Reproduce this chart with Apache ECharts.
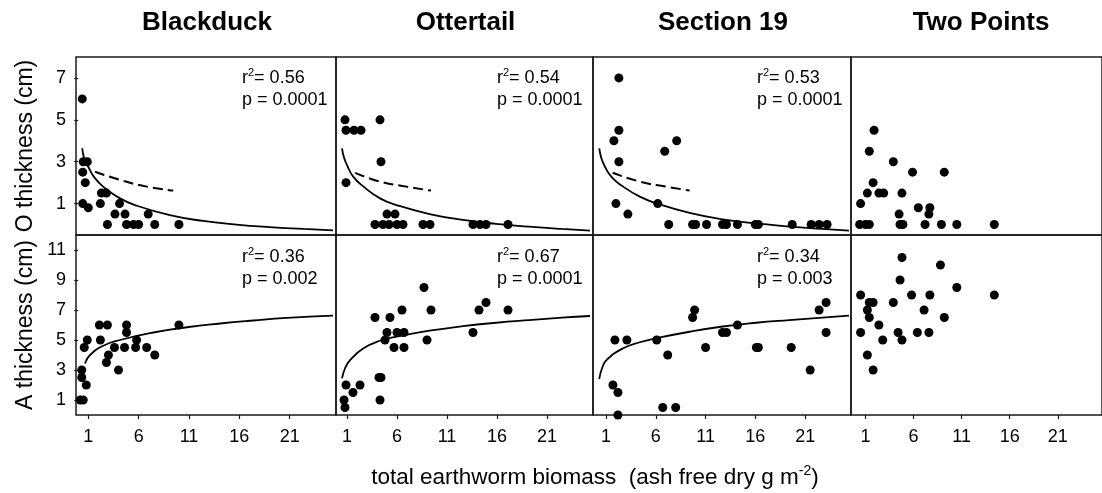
<!DOCTYPE html>
<html>
<head>
<meta charset="utf-8">
<title>earthworm biomass vs forest floor thickness</title>
<script src="https://cdn.jsdelivr.net/npm/echarts@6/dist/echarts.min.js"></script>
<style>
  html, body { margin: 0; padding: 0; background: #fff; }
  #chart { width: 1102px; height: 493px; }
</style>
</head>
<body>
<div id="chart"></div>
<script>
// column titles
const sites = ['Blackduck', 'Ottertail', 'Section 19', 'Two Points']
// tick labels
const xTicks = [1, 6, 11, 16, 21]
const oTicks = [1, 3, 5, 7]
const aTicks = [1, 3, 5, 7, 9, 11]
// r2 / p per panel (null = no fit shown)
const oStats = [['0.56', '0.0001'], ['0.54', '0.0001'], ['0.53', '0.0001'], null]
const aStats = [['0.36', '0.002'], ['0.67', '0.0001'], ['0.34', '0.003'], null]

// O horizon thickness (cm) vs biomass
const blackduckO = [[0.4, 6], [0.5, 3], [0.9, 3], [0.45, 2.5], [0.7, 2], [0.45, 1], [1.0, 0.8], [2.2, 1], [2.3, 1.5], [2.8, 1.5], [4.1, 1], [3.65, 0.5], [4.65, 0.5], [6.95, 0.5], [2.9, 0], [4.8, 0], [5.5, 0], [6.0, 0], [7.6, 0], [10.0, 0]]
const ottertailO = [[0.8, 5], [4.3, 5], [0.9, 4.5], [1.7, 4.5], [2.4, 4.5], [4.4, 3], [0.9, 2], [5.0, 0.5], [5.8, 0.5], [3.8, 0], [4.6, 0], [5.2, 0], [6.0, 0], [6.6, 0], [8.6, 0], [9.3, 0], [13.6, 0], [14.3, 0], [14.9, 0], [17.1, 0]]
const section19O = [[2.3, 7], [2.3, 4.5], [1.8, 4], [2.3, 3], [6.9, 3.5], [8.1, 4], [2.0, 1], [3.2, 0.5], [6.2, 1], [7.3, 0], [9.7, 0], [10.0, 0], [11.1, 0], [12.7, 0], [13.1, 0], [14.2, 0], [16.0, 0], [16.3, 0], [19.7, 0], [21.6, 0], [22.4, 0], [23.2, 0]]
const twoPointsO = [[1.9, 4.5], [1.4, 3.5], [3.9, 3], [1.8, 2], [5.9, 2.5], [9.2, 2.5], [1.2, 1.5], [2.4, 1.5], [2.9, 1.5], [4.8, 1.5], [0.5, 1], [4.5, 0.5], [6.5, 0.8], [7.7, 0.8], [7.6, 0.5], [0.4, 0], [1.0, 0], [1.4, 0], [4.6, 0], [4.9, 0], [7.2, 0], [8.9, 0], [10.5, 0], [14.4, 0]]

// A horizon thickness (cm) vs biomass
const blackduckA = [[0.2, 1], [0.5, 1], [0.35, 3], [0.35, 2.5], [0.8, 2], [0.6, 4.5], [0.9, 5], [2.1, 6], [2.9, 6], [2.2, 5], [2.8, 3.5], [3.0, 4], [3.6, 4.5], [4.0, 3], [4.6, 4.5], [4.8, 6], [4.8, 5.5], [5.8, 5], [5.7, 4.5], [6.8, 4.5], [7.6, 4], [10.0, 6]]
const ottertailA = [[0.8, 0.5], [0.7, 1], [0.9, 2], [1.6, 1.5], [2.3, 2], [4.2, 2.5], [4.4, 2.5], [4.3, 1], [3.8, 6.5], [5.3, 6.5], [6.5, 7], [8.7, 8.5], [9.4, 7], [14.2, 7], [14.9, 7.5], [17.1, 7], [13.6, 5.5], [9.0, 5], [5.0, 5.5], [6.0, 5.5], [6.7, 5.5], [4.8, 5], [5.7, 4.5], [6.7, 4.5]]
const section19A = [[1.7, 2], [2.2, 1.5], [2.2, 0], [1.9, 5], [3.1, 5], [6.1, 5], [7.2, 4], [6.7, 0.5], [8.0, 0.5], [9.7, 6.5], [9.9, 7], [11.0, 4.5], [12.7, 5.5], [13.1, 5.5], [14.2, 6], [16.1, 4.5], [16.3, 4.5], [19.6, 4.5], [21.5, 3], [22.4, 7], [23.1, 7.5], [23.1, 5.5]]
const twoPointsA = [[4.8, 10.5], [8.8, 10], [4.6, 9], [10.5, 8.5], [0.5, 8], [5.8, 8], [7.7, 8], [14.4, 8], [1.4, 7.5], [1.8, 7.5], [3.9, 7.5], [1.2, 7], [7.1, 7], [1.4, 6.5], [9.2, 6.5], [2.4, 6], [0.5, 5.5], [4.4, 5.5], [6.4, 5.5], [7.6, 5.5], [4.8, 5], [2.8, 5], [1.2, 4], [1.8, 3]]

// fitted curves
const blackduckOFit = [[0.4, 3.64], [0.6, 3.15], [1.0, 2.76], [1.6, 2.25], [2.5, 1.8], [4.15, 1.25], [5.8, 0.9], [9.1, 0.45], [12.4, 0.17], [15.7, 0.0], [19.0, -0.12], [22.4, -0.21], [25.3, -0.28]]
const ottertailOFit = [[0.5, 3.64], [0.7, 3.2], [1.0, 2.84], [1.6, 2.3], [2.65, 1.81], [4.3, 1.25], [5.96, 0.93], [9.26, 0.5], [12.6, 0.22], [15.9, 0.03], [19.2, -0.1], [22.5, -0.21], [25.3, -0.29]]
const section19OFit = [[0.33, 3.64], [0.55, 3.15], [0.9, 2.76], [1.6, 2.25], [2.73, 1.81], [4.4, 1.33], [6.07, 1.01], [9.4, 0.56], [12.7, 0.25], [16.07, 0.06], [19.4, -0.1], [22.7, -0.21], [25.4, -0.29]]
const blackduckODash = [[1.67, 2.52], [4.15, 2.13], [6.8, 1.81], [9.44, 1.62]]
const ottertailODash = [[1.82, 2.47], [4.3, 2.05], [6.95, 1.81], [9.4, 1.62]]
const section19ODash = [[1.67, 2.47], [4.4, 2.05], [7.07, 1.81], [9.4, 1.62]]
const blackduckAFit = [[0.67, 3.44], [1.17, 4.0], [2.49, 4.62], [4.15, 5.0], [7.46, 5.5], [10.8, 5.85], [14.1, 6.1], [17.4, 6.3], [20.7, 6.47], [25.3, 6.62]]
const ottertailAFit = [[0.5, 2.44], [0.8, 3.1], [1.33, 3.67], [2.65, 4.45], [4.3, 4.95], [5.96, 5.22], [9.26, 5.62], [12.6, 5.92], [15.9, 6.15], [19.2, 6.33], [22.5, 6.49], [25.3, 6.6]]
const section19AFit = [[0.33, 2.4], [0.6, 3.1], [1.07, 3.67], [2.73, 4.45], [4.4, 4.85], [6.07, 5.12], [9.4, 5.55], [12.73, 5.9], [16.07, 6.15], [19.4, 6.33], [22.73, 6.49], [25.4, 6.62]]

const FONT = 'Liberation Sans, Arial, Helvetica, sans-serif'

// panel layout (px)
const colLeft = [76, 336, 593, 851]
const colWidth = [260, 257, 258, 258]
const colXMin = [-0.22, -0.1, -0.3, -0.5]
const rowTop = [57, 235]
const rowHeight = [178, 180]

const panels = [
    { pts: blackduckO, fit: blackduckOFit, dash: blackduckODash },
    { pts: ottertailO, fit: ottertailOFit, dash: ottertailODash },
    { pts: section19O, fit: section19OFit, dash: section19ODash },
    { pts: twoPointsO },
    { pts: blackduckA, fit: blackduckAFit },
    { pts: ottertailA, fit: ottertailAFit },
    { pts: section19A, fit: section19AFit },
    { pts: twoPointsA },
]

const grid = []
const xAxis = []
const yAxis = []
const series = []
const graphic = []

panels.forEach((p, i) => {
    const row = Math.floor(i / 4)
    const col = i % 4
    grid.push({
        left: colLeft[col],
        top: rowTop[row],
        width: colWidth[col],
        height: rowHeight[row],
        show: true,
        borderColor: '#1a1a1a',
        borderWidth: 1.5,
        backgroundColor: 'transparent',
    })
    xAxis.push({
        type: 'value',
        gridIndex: i,
        min: colXMin[col],
        max: 25.6,
        splitLine: { show: false },
        axisLine: { show: false },
        axisTick: {
            show: row === 1,
            customValues: xTicks,
            length: 4,
            lineStyle: { color: '#1a1a1a', width: 1.2 },
        },
        axisLabel: {
            show: row === 1,
            customValues: xTicks,
            margin: 13,
            color: '#000',
            fontSize: 18,
            fontFamily: FONT,
        },
    })
    const ticks = row === 0 ? oTicks : aTicks
    yAxis.push({
        type: 'value',
        gridIndex: i,
        min: row === 0 ? -0.5 : 0,
        max: row === 0 ? 8 : 12,
        splitLine: { show: false },
        axisLine: { show: false },
        axisTick: {
            show: col === 0,
            customValues: ticks,
            length: 4,
            lineStyle: { color: '#1a1a1a', width: 1.2 },
        },
        axisLabel: {
            show: col === 0,
            customValues: ticks,
            margin: 10,
            color: '#000',
            fontSize: 18,
            fontFamily: FONT,
        },
        name: col === 0 ? (row === 0 ? 'O thickness (cm)' : 'A thickness (cm)') : '',
        nameLocation: 'middle',
        nameGap: 39,
        nameTextStyle: { color: '#000', fontSize: 23, fontFamily: FONT },
    })
    series.push({
        type: 'scatter',
        xAxisIndex: i,
        yAxisIndex: i,
        data: p.pts,
        symbol: 'circle',
        symbolSize: 9,
        itemStyle: { color: '#000', opacity: 1 },
        silent: true,
        z: 3,
    })
    if (p.fit) {
        series.push({
            type: 'line',
            xAxisIndex: i,
            yAxisIndex: i,
            data: p.fit,
            smooth: true,
            showSymbol: false,
            lineStyle: { color: '#000', width: 1.8 },
            silent: true,
            z: 2,
        })
    }
    if (p.dash) {
        series.push({
            type: 'line',
            xAxisIndex: i,
            yAxisIndex: i,
            data: p.dash,
            smooth: true,
            showSymbol: false,
            lineStyle: { color: '#000', width: 2, type: [10, 5] },
            silent: true,
            z: 2,
        })
    }
    // r2 / p annotation
    const st = row === 0 ? oStats[col] : aStats[col]
    if (st) {
        const offs = [166, 161, 164]
        graphic.push({
            type: 'text',
            left: colLeft[col] + offs[col],
            top: row === 0 ? 67 : 246,
            style: {
                text: '{r|r}{s|2}{r|= ' + st[0] + '}\n{r|p = ' + st[1] + '}',
                rich: {
                    r: { fontSize: 18, fontFamily: FONT, fill: '#000', lineHeight: 22 },
                    s: { fontSize: 11, fontFamily: FONT, fill: '#000', verticalAlign: 'top', lineHeight: 22 },
                },
            },
        })
    }
})

// column titles
sites.forEach((name, c) => {
    graphic.push({
        type: 'text',
        x: colLeft[c] + colWidth[c] / 2 + 1,
        y: 23,
        style: {
            text: name,
            fill: '#000',
            fontSize: 26,
            fontWeight: 'bold',
            fontFamily: FONT,
            align: 'center',
            verticalAlign: 'middle',
        },
    })
})

// shared x axis title
graphic.push({
    type: 'text',
    x: 595,
    y: 478,
    style: {
        text: '{t|total earthworm biomass  (ash free dry g m}{s|-2}{t|)}',
        align: 'center',
        verticalAlign: 'middle',
        rich: {
            t: { fontSize: 22.5, fontFamily: FONT, fill: '#000', lineHeight: 28 },
            s: { fontSize: 14, fontFamily: FONT, fill: '#000', verticalAlign: 'top', lineHeight: 28 },
        },
    },
})

const chart = echarts.init(document.getElementById('chart'), null, { renderer: 'canvas' })
chart.setOption({
    backgroundColor: '#fff',
    animation: false,
    grid: grid,
    xAxis: xAxis,
    yAxis: yAxis,
    series: series,
    graphic: graphic,
})
</script>
</body>
</html>
